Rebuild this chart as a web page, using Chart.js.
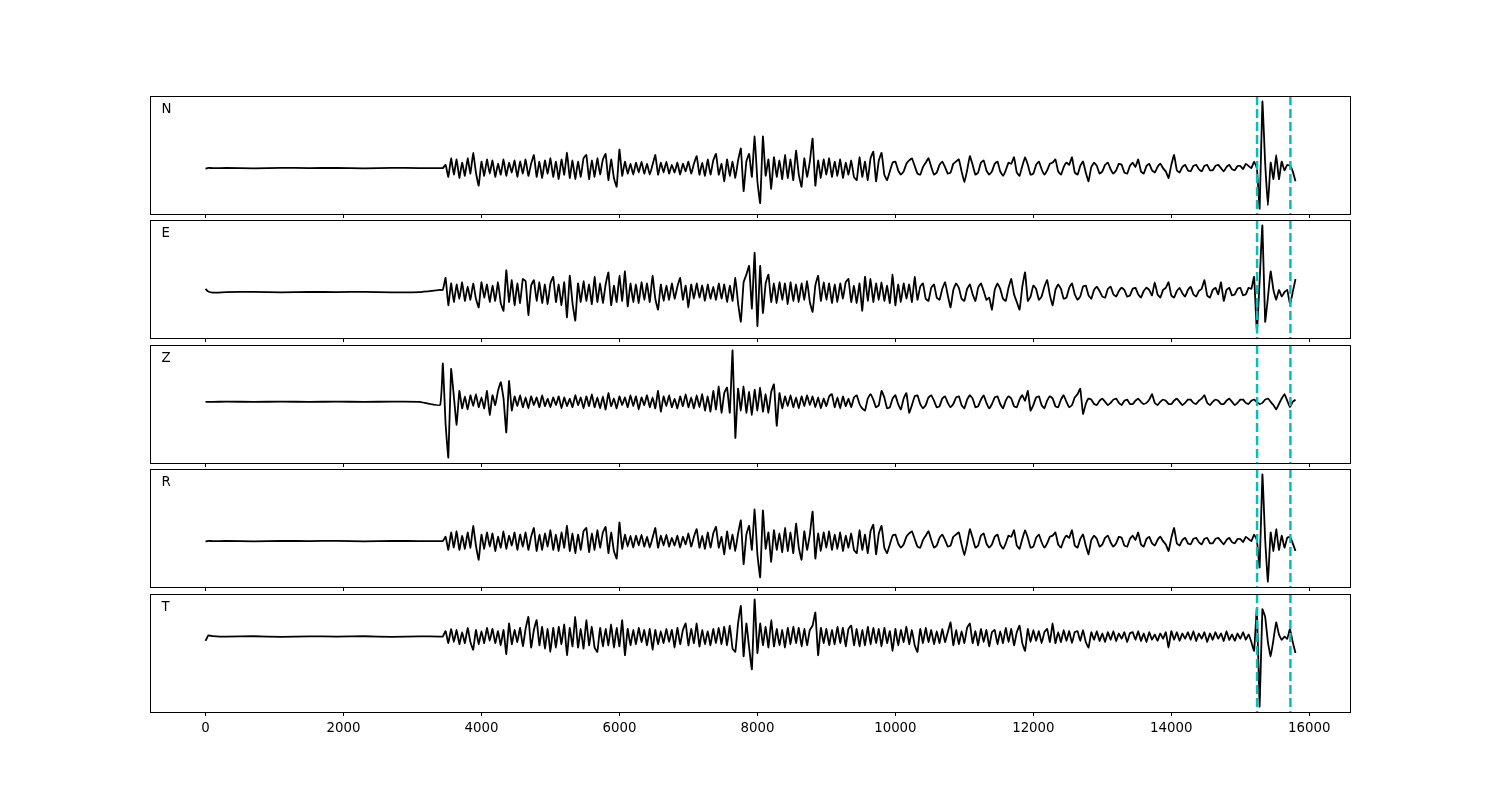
<!DOCTYPE html>
<html>
<head>
<meta charset="utf-8">
<script src="https://cdn.jsdelivr.net/npm/chart.js@4.4.0/dist/chart.umd.min.js"></script>
<style>
  body { margin: 0; background: #fff; width: 1500px; height: 800px; position: relative; overflow: hidden; }
  canvas { position: absolute; }
</style>
</head>
<body>
<script>
// component names, one per panel
var channels = ["N", "E", "Z", "R", "T"];

// x ticks and the two picked times (dashed cyan)
var xTicks = [0, 2000, 4000, 6000, 8000, 10000, 12000, 14000, 16000];
var markers = [15243, 15726];

// quiet part before the first arrival, sampled sparsely
var quietT = [0, 40, 100, 300, 700, 1100, 1500, 1900, 2300, 2700, 3100, 3400];
var quietN = [-0.5, 0.3, 0, 0.2, -0.2, 0.3, 0, 0.2, -0.2, 0.3, 0, 0];
var quietE = [3, 0.5, -0.5, 0, 0.3, -0.2, 0.2, 0, 0.3, -0.2, 0, 2];
var quietZ = [0, 0, 0, 0.1, 0, 0.1, 0, 0.1, 0, 0.1, 0, -3];
var quietR = [-0.3, 0.3, 0, 0.2, -0.2, 0.2, 0, 0.3, -0.2, 0.2, 0, 0];
var quietT_ = [-4, 1, 0.5, 0, 0.3, -0.2, 0.2, 0, 0.3, -0.2, 0.2, 0];

// active part: samples every 40 from 3440 to 15800
var activeStart = 3440;
var activeStep = 40;

var traceN = [
  0, 3, -8, 9, -6, 8, -9, 5, -7, 9,
  -5, 14, -4, -16, 6, -7, 8, -5, 7, -8,
  4, -6, 8, -7, 5, -4, 7, -8, 6, -5,
  8, -7, 4, 12, -8, 6, -9, 7, -5, 9,
  -8, 6, -10, 8, -6, 14, -9, 7, -10, 6,
  -8, 9, 12, -10, 7, -8, 9, -6, 8, 13,
  -11, 8, -9, -17, 17, -7, 6, -5, 4, -6,
  5, -4, 6, -5, 4, -6, 3, 12, -6, 5,
  -4, 6, -5, 3, -4, 5, -6, 4, -3, 6,
  -5, 4, 11, -6, 5, -7, 8, -6, 7, 13,
  -6, 4, -12, 8, -7, 6, -9, 7, 18, -21,
  6, 13, -8, 29, -12, -32, 29, -7, 8, -19,
  10, -8, 7, -10, 12, -9, 8, -11, 16, -6,
  -17, 9, -8, 6, 27, -16, 7, -9, 8, -6,
  9, -8, 6, -7, 8, -9, 5, -6, 7, -8,
  -11, 10, -8, 6, -11, 9, 15, -12, 7, 14,
  -6, -11, -3, 5, 6, -2, -6, -3, 4, 7,
  9, 2, -5, -6, 1, 5, 9, 1, -6, -4,
  3, 6, 1, -5, -4, 4, 6, 8, -3, -13,
  -2, 11, 3, -6, -4, 5, 7, -2, -6, -3,
  4, 6, -3, -7, -2, 5, 4, 10, -4, -7,
  2, 10, 3, -6, -5, 3, 6, -1, -6, -2,
  4, 5, 8, -3, -6, 1, 5, 3, 10, -4,
  -6, 2, 6, -4, -12, 1, 5, 2, -5, -3,
  3, 5, -1, -5, -2, 4, 3, -4, -5, 2,
  5, 1, 8, -3, -5, 2, 4, -2, -4, 1,
  4, 0, -3, -9, 3, 12, -2, -4, 1, 3,
  -2, -3, 2, 3, -1, -3, 2, 3, -2, -2,
  2, 3, 0, -3, 1, 3, -1, -2, 2, 2,
  -1, 4, 2, 0, 6, 0, -37, 61, 5, -34,
  5, -10, 12, -10, 6, -2, 3, 2, -3, -12
];

var traceE = [
  2, 13, -12, 8, -9, 7, -6, 9, -8, 5,
  -7, 8, -6, -14, 9, -5, 7, -9, 6, -8,
  9, -10, -17, 20, -9, 11, -12, 8, -10, 12,
  10, -21, 6, 11, -8, 9, -10, 7, -11, 8,
  14, -9, 7, -12, 9, -23, 15, -10, -26, 8,
  -9, 10, -8, 7, -11, 14, -9, 8, -10, 7,
  18, -12, 6, -9, 15, -8, 19, -13, 8, -9,
  7, -10, 9, -7, 8, -9, 15, -6, -16, 7,
  -8, 6, -7, 8, -6, 5, 13, -7, 6, -14,
  7, -6, 8, -5, 6, -8, 7, -6, 5, -7,
  8, -6, 7, -9, 6, -8, 13, -10, -27, 9,
  16, 24, -15, 36, -31, 24, -19, 8, 16, -9,
  8, -10, 9, -7, 8, -11, 9, -8, 7, -9,
  8, -7, 10, -9, -18, 6, 15, -8, 9, -7,
  8, -10, 7, -9, 8, -6, 9, 12, -9, 6,
  -10, 8, -17, 14, -8, 12, -9, 8, -7, 9,
  -8, 6, -10, 16, -12, 7, -9, 8, -6, 7,
  -9, 14, -7, 5, 8, -6, -8, 4, 7, -5,
  -7, 3, 9, -3, -14, 2, 8, 4, -6, -8,
  3, 7, -2, -8, 4, 8, 1, -7, -5, -16,
  2, 8, 3, -6, -8, 4, 12, -2, -9, -16,
  5, 18, -8, -4, 6, 3, -7, -4, 5, 11,
  -3, -12, 2, 7, 3, -6, -5, 4, 8, -2,
  -7, -4, 5, 6, -3, -6, 2, 5, 1, -4,
  -5, 3, 5, -2, -4, 1, 4, 2, -4, -3,
  3, 4, -2, -5, 1, 4, 2, -3, 9, -2,
  -5, 2, 4, 9, -3, -5, 1, 4, -1, -4,
  2, 5, -2, -4, 1, 3, 11, -3, -5, 2,
  4, -2, 9, -8, 2, 4, -3, -2, 3, 4,
  -3, -2, 4, 3, 14, -37, 10, 61, -27, -5,
  19, 2, -7, 2, -4, 0, 2, -11, 0, 12
];

var traceZ = [
  35, -20, -51, 30, 5, -21, 10, -6, 5, -7,
  6, -4, 7, -5, 4, -6, 10, -12, 6, -3,
  10, 18, 3, -28, 19, -8, 5, -4, 6, -5,
  4, -6, 5, -3, 4, -5, 6, -4, 3, -5,
  4, -3, 5, -6, 4, -4, 3, -5, 6, -3,
  4, -6, 5, -4, 7, -5, 4, -6, 5, -7,
  8, -4, 3, -6, 5, -3, 4, -5, 6, -4,
  5, -7, 4, -3, 6, -5, 4, -6, 10, -9,
  5, -4, 6, -5, 3, -6, 5, -4, 7, -5,
  4, -6, 6, -5, 7, -8, 5, -9, 10, -7,
  14, -10, 8, 13, -10, 47, -33, 12, -8, 14,
  -10, 9, -12, 11, -8, 13, -9, 7, -10, 9,
  16, -22, 8, -6, 5, -4, 6, -5, 4, -6,
  5, -4, 6, -3, 5, -5, 4, -6, 3, -4,
  5, 7, -5, 4, -6, 5, -4, 3, -5, 4,
  6, -2, -6, -8, 3, 7, 2, -5, -3, 10,
  4, -6, -5, 3, 6, -2, -7, 3, 8, -10,
  -3, 5, 6, -2, -6, -3, 4, 6, 1, -5,
  -4, 3, 5, -1, -5, -2, 4, 5, -3, -6,
  2, 6, 3, -5, -4, 2, 6, -1, -6, -2,
  4, 5, -2, -6, 1, 5, 3, -4, -5, 2,
  6, 1, 10, -8, -3, 4, 5, -3, -6, 1,
  5, 3, -4, -5, 2, 6, 0, -5, -3, 4,
  7, 12, -11, -2, 3, 2, -2, -3, 1, 3,
  0, -3, -1, 2, 3, -1, -3, 1, 2, -2,
  -2, 1, 3, 0, -2, -1, 2, 7, -1, -3,
  0, 2, 1, -2, -2, 1, 3, 0, -3, -1,
  2, 2, -1, -2, 1, 3, 6, -1, -3, 0,
  2, 1, -2, -2, 1, 3, 0, -3, -1, 2,
  2, -1, -2, 1, 2, 0, -2, -1, 2, 3,
  0, -3, -7, -2, 3, 7, 1, -5, 0, 2
];

var traceR = [
  0, 4, -8, 8, -6, 9, -8, 5, -7, 8,
  -6, 14, -4, -17, 6, -7, 8, -5, 7, -9,
  4, -6, 9, -7, 5, -4, 8, -8, 6, -5,
  8, -8, 4, 12, -9, 6, -8, 7, -5, 10,
  -8, 6, -9, 8, -6, 14, -9, 7, -11, 6,
  -8, 9, 12, -10, 7, -8, 10, -6, 8, 13,
  -11, 8, -9, -16, 17, -7, 6, -5, 5, -6,
  5, -4, 6, -5, 4, -6, 3, 12, -6, 5,
  -4, 6, -5, 3, -4, 5, -6, 4, -3, 7,
  -5, 4, 11, -6, 5, -7, 8, -6, 7, 13,
  -6, 4, -12, 9, -7, 6, -9, 7, 19, -21,
  6, 14, -8, 29, -12, -33, 28, -7, 8, -19,
  10, -8, 7, -10, 12, -9, 8, -11, 16, -6,
  -17, 9, -8, 6, 27, -16, 7, -9, 8, -6,
  9, -8, 6, -7, 8, -9, 5, -6, 7, -8,
  -11, 10, -8, 6, -11, 9, 15, -12, 7, 14,
  -6, -11, -3, 5, 6, -2, -6, -3, 4, 7,
  9, 2, -5, -6, 1, 5, 9, 1, -6, -4,
  3, 6, 1, -5, -4, 4, 6, 8, -3, -13,
  -2, 11, 3, -6, -4, 5, 7, -2, -6, -3,
  4, 6, -3, -7, -2, 5, 4, 10, -4, -7,
  2, 10, 3, -6, -5, 3, 6, -1, -6, -2,
  4, 5, 8, -3, -6, 1, 5, 3, 10, -4,
  -6, 2, 6, -4, -12, 1, 5, 2, -5, -3,
  3, 5, -1, -5, -2, 4, 3, -4, -5, 2,
  5, 1, 8, -3, -5, 2, 4, -2, -4, 1,
  4, 0, -3, -9, 3, 12, -2, -4, 1, 3,
  -2, -3, 2, 3, -1, -3, 2, 3, -2, -2,
  2, 3, 0, -3, 1, 3, -1, -2, 2, 2,
  -1, 4, 2, 0, 6, 1, -24, 61, 2, -37,
  8, -9, 11, -8, 5, -6, 3, 4, -2, -9
];

var traceT = [
  0, 5, -6, 7, -5, 6, -7, 4, -6, 8,
  -5, -12, 6, -7, 5, -6, 8, -4, 7, -6,
  5, -8, 6, -16, 12, -7, 6, -5, 8, -9,
  7, 18, -10, 6, 15, -8, 9, -11, 7, -14,
  8, -10, 9, -7, 11, -17, 8, -9, 18, -10,
  7, -11, 15, -8, 9, -10, -14, 8, -9, 7,
  -8, 11, -10, 8, -9, 15, -17, 7, -8, 6,
  -7, 8, -5, 6, -8, 7, -12, 6, -7, 5,
  -6, 7, -5, 6, -10, 8, -7, 6, 12, -8,
  7, -6, 12, -9, 6, -7, 5, -8, 7, -6,
  8, -7, 9, -8, 10, -11, -14, 12, 28, -18,
  12, -10, -30, 34, -15, 12, -8, 9, -10, 15,
  -9, 7, -8, 6, -10, 8, -7, 9, -6, 8,
  -9, 7, -8, 6, 10, 22, -17, 8, -6, 7,
  -8, 6, -7, 9, -6, 8, -9, 7, 10, -8,
  7, -9, 6, -8, 9, -7, 8, -6, 7, -9,
  8, -6, 5, -13, 7, -8, 6, -5, 9, -7,
  6, -8, -14, 7, -6, 8, -5, 6, -7, 5,
  -6, 7, -5, 4, 13, -8, 6, -7, 5, -6,
  8, 12, -6, 5, -8, 7, -5, 6, -9, 4,
  6, -7, 5, -6, 8, -5, 7, -8, 4, 10,
  -6, -13, 7, -5, 6, -4, 5, -6, 4, 7,
  -5, 12, -6, 4, -5, 6, -4, 5, -6, 4,
  5, -4, 6, -5, -10, 4, -3, 5, -4, 3,
  -5, 4, -3, 5, -4, 3, -2, 4, -5, 3,
  4, -3, 5, -4, 3, -5, 4, -3, 2, -4,
  3, -2, 4, -10, 5, -3, 4, -4, 3, -2,
  4, -3, 5, -4, 3, -2, 4, -5, 3, -3,
  4, -2, 3, -4, 5, -3, 2, -4, 3, -2,
  4, -3, 2, -5, -13, 26, -64, 25, 18, -5,
  -18, -3, 13, 2, -3, 0, -2, 7, -5, -15
];

var quiets = [quietN, quietE, quietZ, quietR, quietT_];
var traces = [traceN, traceE, traceZ, traceR, traceT];

// layout of the five stacked panels (page pixels)
var panelTops = [96, 220, 345, 469, 594];
var panelH = 118;
var plotLeft = 151, plotW = 1199;

function buildPoints(quiet, active) {
  var pts = [];
  for (var i = 0; i < quietT.length; i++) pts.push({x: quietT[i], y: quiet[i]});
  for (var j = 0; j < active.length; j++) pts.push({x: activeStart + j * activeStep, y: active[j]});
  return pts;
}

var panelPlugin = {
  id: "panel",
  afterDatasetsDraw: function(chart, args, opts) {
    var ctx = chart.ctx, a = chart.chartArea, xs = chart.scales.x;
    ctx.save();
    ctx.strokeStyle = "#00bfbf";
    ctx.lineWidth = 2.5;
    ctx.setLineDash([9, 4]);
    markers.forEach(function(m) {
      var px = xs.getPixelForValue(m);
      ctx.beginPath();
      ctx.moveTo(px, a.top);
      ctx.lineTo(px, a.bottom);
      ctx.stroke();
    });
    ctx.setLineDash([]);
    ctx.strokeStyle = "#000";
    ctx.lineWidth = 1;
    ctx.strokeRect(a.left - 0.5, a.top + 0.5, a.right - a.left + 1, a.bottom - a.top);
    ctx.fillStyle = "#000";
    ctx.font = '13.33px "DejaVu Sans"';
    ctx.textBaseline = "alphabetic";
    ctx.fillText(opts.label, a.left + 10.5, a.top + 17.3);
    ctx.restore();
  }
};

channels.forEach(function(ch, k) {
  var last = k === channels.length - 1;
  var axisH = last ? 40 : 6;
  var cv = document.createElement("canvas");
  cv.width = plotW + 2;
  cv.height = panelH + 1 + axisH;
  cv.style.left = (plotLeft - 1) + "px";
  cv.style.top = (panelTops[k] - 1) + "px";
  document.body.appendChild(cv);

  var pts = buildPoints(quiets[k], traces[k]);
  var ys = pts.map(function(p) { return p.y; });
  var lo = Math.min.apply(null, ys), hi = Math.max.apply(null, ys);
  var pad = (hi - lo) * 0.05;

  new Chart(cv.getContext("2d"), {
    type: "line",
    data: {
      datasets: [{
        data: pts,
        borderColor: "#000",
        borderWidth: 1.8,
        pointRadius: 0,
        tension: 0.1,
        fill: false
      }]
    },
    options: {
      responsive: false,
      animation: false,
      events: [],
      layout: {padding: {top: 1, left: 1, right: 1, bottom: 0}},
      plugins: {
        legend: {display: false},
        tooltip: {enabled: false},
        panel: {label: ch}
      },
      scales: {
        x: {
          type: "linear",
          min: -790,
          max: 16590,
          afterBuildTicks: function(s) { s.ticks = xTicks.map(function(v) { return {value: v}; }); },
          afterFit: function(s) { s.height = axisH; },
          grid: {drawOnChartArea: false, drawTicks: true, tickLength: 4, color: "#000", lineWidth: 1},
          border: {display: true, color: "#000", width: 1},
          ticks: {
            color: last ? "#000" : "rgba(0,0,0,0)",
            font: {family: "DejaVu Sans", size: 13.33},
            padding: 5,
            maxRotation: 0,
            autoSkip: false,
            callback: function(v) { return String(v); }
          }
        },
        y: {display: false, min: lo - pad, max: hi + pad}
      }
    },
    plugins: [panelPlugin]
  });
});
</script>
</body>
</html>
